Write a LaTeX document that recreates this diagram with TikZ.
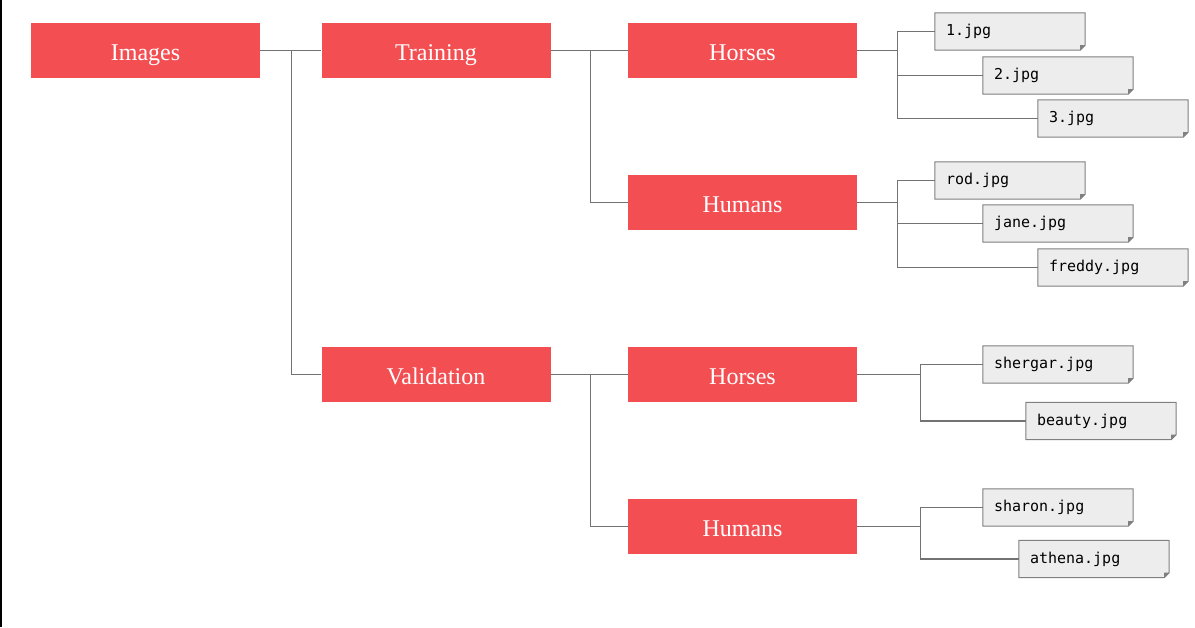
\documentclass[tikz,border=0pt]{standalone}
\usepackage{fontspec}
\setmainfont{Liberation Serif}
\setmonofont{DejaVu Sans Mono}
\usetikzlibrary{backgrounds}
\definecolor{folderred}{HTML}{F34E52}
\definecolor{linegray}{HTML}{737373}
\definecolor{filefill}{HTML}{EDEDED}
\definecolor{fileedge}{HTML}{808080}

\begin{document}
\begin{tikzpicture}[x=1pt,y=-1pt,
  folder/.style={fill=folderred, text=white, minimum width=229pt, minimum height=55pt,
    inner sep=0pt, text height=22pt, text depth=3pt, font=\fontsize{24}{28}\selectfont},
  imgfile/.style={minimum width=150pt, minimum height=37pt, inner xsep=11pt, inner ysep=0pt,
    text width=128pt, align=left, font=\ttfamily\fontsize{15}{17}\selectfont},
  link/.style={draw=linegray, line width=1.3pt}]
\useasboundingbox (0,0) rectangle (1195,627);
\draw[black, line width=1.5pt] (0.75,0) -- (0.75,627);

% Folders
\node[folder] (images) at (145.5,50.5) {Images};
\node[folder] (training) at (436,50.5) {Training};
\node[folder] (validation) at (436,374.5) {Validation};
\node[folder] (trhorses) at (742.5,50.5) {Horses};
\node[folder] (trhumans) at (742.5,202.5) {Humans};
\node[folder] (vahorses) at (742.5,374.5) {Horses};
\node[folder] (vahumans) at (742.5,526.5) {Humans};

% Files
\node[imgfile] (f1) at (1010,31.5) {1.jpg};
\node[imgfile] (f2) at (1058,75.5) {2.jpg};
\node[imgfile] (f3) at (1113,118.5) {3.jpg};
\node[imgfile] (rod) at (1010,180.5) {rod.jpg};
\node[imgfile] (jane) at (1058,223.5) {jane.jpg};
\node[imgfile] (freddy) at (1113,267.5) {freddy.jpg};
\node[imgfile] (shergar) at (1058,364.5) {shergar.jpg};
\node[imgfile] (beauty) at (1101,421) {beauty.jpg};
\node[imgfile] (sharon) at (1058,507.5) {sharon.jpg};
\node[imgfile] (athena) at (1094,559) {athena.jpg};

% Paper shapes behind the file names
\begin{scope}[on background layer]
\foreach \f in {f1,f2,f3,rod,jane,freddy,shergar,beauty,sharon,athena}
{
    \filldraw[fill=filefill, draw=fileedge, line width=1pt] (\f.north west) -- (\f.north east)
        -- ([yshift=5pt]\f.south east) -- ([xshift=-5pt]\f.south east) -- (\f.south west) -- cycle;
    \fill[fileedge] ([yshift=5pt]\f.south east) -- ([xshift=-5pt]\f.south east)
        -- ([xshift=-5pt,yshift=5pt]\f.south east) -- cycle;
}
\end{scope}

% Tree lines
\draw[link] (images.east) -- ++(31,0) coordinate (jimg) -- (training.west);
\draw[link] (jimg) |- (validation.west);
\draw[link] (training.east) -- ++(40,0) coordinate (jtr) -- (trhorses.west);
\draw[link] (jtr) |- (trhumans.west);
\draw[link] (validation.east) -- ++(40,0) coordinate (jva) -- (vahorses.west);
\draw[link] (jva) |- (vahumans.west);

\draw[link] (trhorses.east) -- ++(40,0) coordinate (jh);
\foreach \f in {f1,f2,f3}
    \draw[link] (jh) |- (\f.west);
\draw[link] (trhumans.east) -- ++(40,0) coordinate (jm);
\foreach \f in {rod,jane,freddy}
    \draw[link] (jm) |- (\f.west);
\draw[link] (vahorses.east) -- ++(63,0) coordinate (jvh);
\foreach \f in {shergar,beauty}
    \draw[link] (jvh) |- (\f.west);
\draw[link] (vahumans.east) -- ++(63,0) coordinate (jvm);
\foreach \f in {sharon,athena}
    \draw[link] (jvm) |- (\f.west);
\end{tikzpicture}
\end{document}
